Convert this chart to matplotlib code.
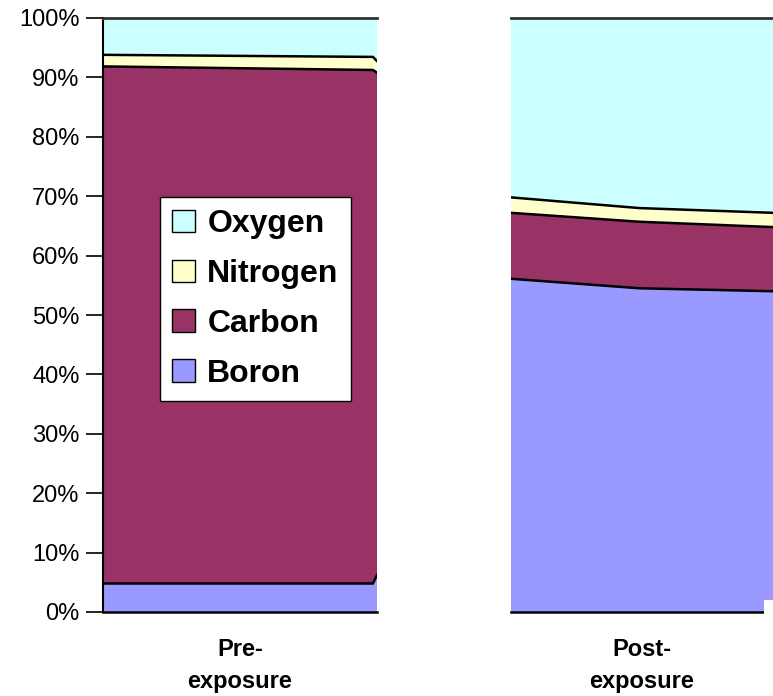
import numpy as np
import matplotlib
matplotlib.use("Agg")
import matplotlib.pyplot as plt
from matplotlib.patches import Rectangle, Patch

plt.rcParams['font.family'] = ['Liberation Sans', 'DejaVu Sans']

elements = ["Boron", "Carbon", "Nitrogen", "Oxygen"]
colors = ["#9999FF", "#993366", "#FFFFCC", "#CCFFFF"]

# Pre-exposure composition (%), sampled across the panel
pre_x = [0.0, 0.985, 1.0]
pre_boron = [4.80, 4.80, 6.20]
pre_carbon = [87.05, 86.45, 84.60]
pre_nitrogen = [1.95, 2.20, 1.95]
pre_oxygen = [6.20, 6.55, 7.25]

# Post-exposure composition (%)
post_x = [0.0, 0.49, 1.0]
post_boron = [56.1, 54.5, 54.0]
post_carbon = [11.1, 11.2, 10.8]
post_nitrogen = [2.6, 2.3, 2.4]
post_oxygen = [30.2, 32.0, 32.8]

panel_labels = ["Pre-\nexposure", "Post-\nexposure"]
yticks = np.arange(0, 101, 10)
ytick_labels = [f"{v}%" for v in yticks]

W, H = 773, 696
fig = plt.figure(figsize=(W / 100, H / 100), dpi=100)

ax1 = fig.add_axes([103 / W, (H - 612) / H, 274 / W, 594 / H])
ax2 = fig.add_axes([511 / W, (H - 612) / H, 262 / W, 594 / H])


def draw_panel(ax, x, series, label):
    ax.stackplot(x, *series, colors=colors, linewidth=0)
    cum = np.cumsum(np.array(series), axis=0)
    for top in cum[:-1]:
        ax.plot(x, top, color="black", lw=1.8, solid_joinstyle="miter")
    ax.set_xlim(0, 1)
    ax.set_ylim(0, 100)
    ax.set_xticks([])
    ax.spines["right"].set_visible(False)
    ax.spines["top"].set_color("#333333")
    ax.spines["top"].set_linewidth(2.0)
    ax.spines["bottom"].set_color("black")
    ax.spines["bottom"].set_linewidth(1.8)
    ax.text(0.5, -0.043, label, transform=ax.transAxes, ha="center", va="top",
            fontsize=17, fontweight="bold", linespacing=1.5)


draw_panel(ax1, pre_x, [pre_boron, pre_carbon, pre_nitrogen, pre_oxygen], panel_labels[0])
draw_panel(ax2, post_x, [post_boron, post_carbon, post_nitrogen, post_oxygen], panel_labels[1])

ax1.spines["left"].set_color("black")
ax1.spines["left"].set_linewidth(1.5)
ax1.set_yticks(yticks)
ax1.set_yticklabels(ytick_labels, fontsize=17)
ax1.tick_params(axis="y", direction="out", length=12, width=1.2, pad=5)

ax2.spines["left"].set_visible(False)
ax2.set_yticks([])

handles = [Patch(facecolor=c, edgecolor="black", linewidth=1.0) for c in colors[::-1]]
leg = ax1.legend(handles, elements[::-1], loc="upper left",
                 bbox_to_anchor=((160 - 103) / 274, (612 - 197) / 594),
                 frameon=True, fancybox=False, edgecolor="black",
                 facecolor="white", framealpha=1.0,
                 prop={"weight": "bold", "size": 23},
                 handlelength=0.7, handleheight=0.7, handletextpad=0.4,
                 labelspacing=0.62, borderpad=0.38, borderaxespad=0)
leg.get_frame().set_linewidth(1.0)

# White notch at the lower right corner of the post-exposure panel
fig.patches.append(Rectangle((764 / W, 0), (W - 764) / W, (H - 600) / H,
                             transform=fig.transFigure, facecolor="white",
                             edgecolor="none", zorder=10))

fig.savefig("out.png", dpi=100)
